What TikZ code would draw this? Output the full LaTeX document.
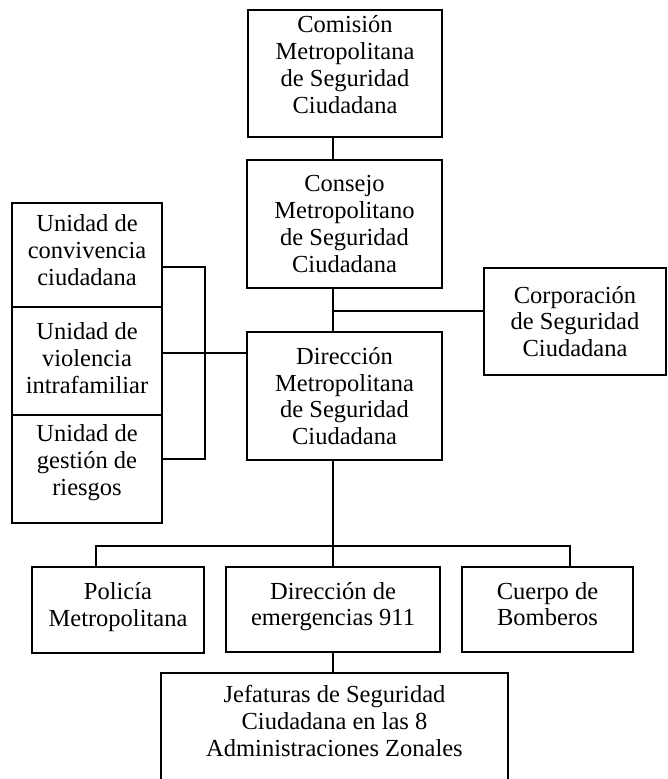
\documentclass[tikz,border=0pt]{standalone}
\usepackage{fontspec}
\setmainfont{Liberation Serif}
\begin{document}
\begin{tikzpicture}[x=1pt,y=-1pt,
  box/.style={draw, line width=1.6pt, align=center, inner sep=0pt,
    font=\fontsize{24.5}{26.7}\selectfont},
  conn/.style={line width=1.6pt}]
\useasboundingbox (0,0) rectangle (667,779);
\fill[white] (0,0) rectangle (667,779);
% boxes
\node[box, minimum width=194pt, minimum height=127pt] (comision) at (345,73.5)
  {Comisión\\Metropolitana\\de Seguridad\\Ciudadana\\[-8.7pt]};
\node[box, minimum width=195pt, minimum height=128pt] (consejo) at (344.5,224)
  {Consejo\\Metropolitano\\de Seguridad\\Ciudadana};
\node[box, minimum width=182pt, minimum height=107pt] (corp) at (575,321.5)
  {Corporación\\de Seguridad\\Ciudadana};
\node[box, minimum width=195pt, minimum height=128pt] (dir) at (344.5,396)
  {Dirección\\Metropolitana\\de Seguridad\\Ciudadana};
\node[box, minimum width=150pt, minimum height=104pt] (u1) at (87,255)
  {Unidad de\\convivencia\\ciudadana\\[-16.7pt]};
\node[box, minimum width=150pt, minimum height=108pt] (u2) at (87,361)
  {Unidad de\\violencia\\intrafamiliar\\[-20.7pt]};
\node[box, minimum width=150pt, minimum height=108pt] (u3) at (87,469)
  {Unidad de\\gestión de\\riesgos\\[-8.7pt]};
\node[box, minimum width=172pt, minimum height=86pt] (policia) at (118,610)
  {Policía\\Metropolitana\\[-15.7pt]};
\node[box, minimum width=214pt, minimum height=85pt] (emerg) at (333,609.5)
  {Dirección de\\emergencias 911\\[-15.7pt]};
\node[box, minimum width=171pt, minimum height=85pt] (bomberos) at (547.5,609.5)
  {Cuerpo de\\Bomberos\\[-15.7pt]};
\node[box, minimum width=347pt, minimum height=112pt] (jef) at (334.5,729)
  {Jefaturas de Seguridad\\Ciudadana en las 8\\Administraciones Zonales\\[-10.7pt]};
% helper coordinates
\coordinate (spine) at (333,0);
\coordinate (bus) at (0,546);
\coordinate (branch) at (0,311);
\coordinate (brx) at (205,0);
\coordinate (br1) at (0,267);
\coordinate (br2) at (0,353);
\coordinate (br3) at (0,459);
\coordinate (polx) at (96,0);
\coordinate (bomx) at (570,0);
% connectors
\draw[conn] (comision.south -| spine) -- (consejo.north -| spine);
\draw[conn] (consejo.south -| spine) -- (dir.north -| spine);
\draw[conn] (branch -| spine) -- (corp.west |- branch);
\draw[conn] (u1.east |- br1) -| (brx |- br3) -- (u3.east |- br3);
\draw[conn] (u2.east |- br2) -- (dir.west |- br2);
\draw[conn] (dir.south -| spine) -- (bus -| spine);
\draw[conn] (policia.north -| polx) |- (bus -| bomx) -- (bomberos.north -| bomx);
\draw[conn] (bus -| spine) -- (emerg.north -| spine);
\draw[conn] (emerg.south -| spine) -- (jef.north -| spine);
\end{tikzpicture}
\end{document}
